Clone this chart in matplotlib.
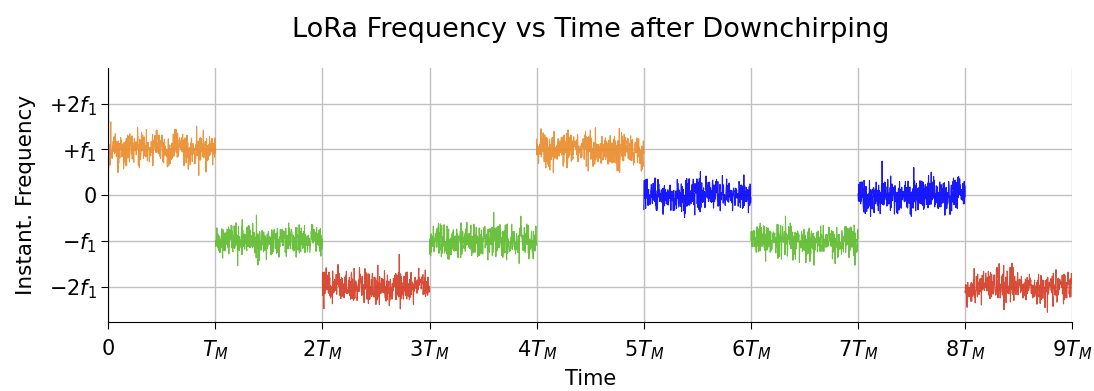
import numpy as np
import matplotlib.pyplot as plt

# decoded symbol per slot (in units of f1) and its colour
symbols = [1, -1, -2, -1, 1, 0, -1, 0, -2]
colours = {1: '#ea8a2a', 0: '#0000ff', -1: '#5cbb2c', -2: '#d33a22'}

ytick_vals = [2, 1, 0, -1, -2]
ytick_labels = ['$+2f_1$', '$+f_1$', '0', '$-f_1$', '$-2f_1$']
xtick_labels = ['0', '$T_M$'] + ['$%dT_M$' % k for k in range(2, 10)]

# noise texture on each symbol (fixed seed so the picture is repeatable)
rng = np.random.default_rng(3)
n = 400

fig, ax = plt.subplots(figsize=(10.94, 3.91), dpi=100)
for i, s in enumerate(symbols):
    t = np.linspace(i, i + 1, n)
    w = rng.normal(0, 0.18, n)
    w = w + np.convolve(rng.normal(0, 0.06, n + 40), np.ones(40) / 40 * 2.5, 'same')[20:n + 20]
    ax.plot(t, s + w, color=colours[s], lw=0.8, alpha=0.9)

ax.set_xlim(0, 9)
ax.set_ylim(-2.78, 2.78)
ax.set_xticks(range(10))
ax.set_xticklabels(xtick_labels)
ax.set_yticks(ytick_vals)
ax.set_yticklabels(ytick_labels)
ax.tick_params(labelsize=15, length=5)
ax.tick_params(axis='x', pad=7)
ax.grid(True, color='#c0c0c0', lw=1)
ax.set_axisbelow(True)
for sp in ['top', 'right']:
    ax.spines[sp].set_visible(False)
ax.set_xlabel('Time', fontsize=15, labelpad=5)
ax.set_ylabel('Instant. Frequency', fontsize=15.5, labelpad=9)
ax.set_title('LoRa Frequency vs Time after Downchirping', fontsize=19.5, pad=22)

plt.subplots_adjust(left=0.099, right=0.98, top=0.826, bottom=0.176)
plt.savefig('out.png')
